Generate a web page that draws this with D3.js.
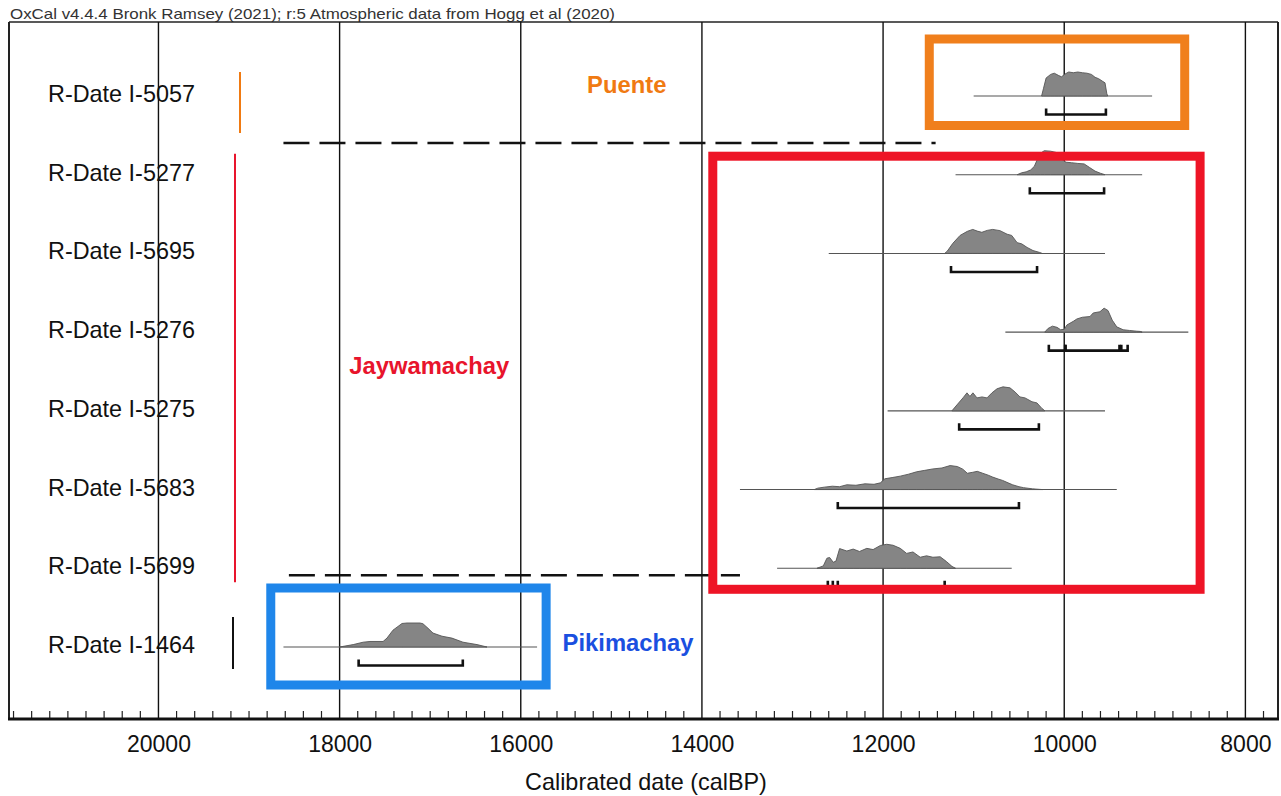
<!DOCTYPE html>
<html>
<head>
<meta charset="utf-8">
<script src="https://cdn.jsdelivr.net/npm/d3@7"></script>
<style>
  html, body { margin: 0; padding: 0; background: #fff; }
  svg { display: block; }
  text { font-family: Arial, "Liberation Sans", sans-serif; }
</style>
</head>
<body>
<svg id="chart" width="1281" height="796"></svg>
<script>
// ---------------- DATA ----------------
const titleText = "OxCal v4.4.4 Bronk Ramsey (2021); r:5 Atmospheric data from Hogg et al (2020)";
const axisTitle = "Calibrated date (calBP)";
const tickValues = [20000, 18000, 16000, 14000, 12000, 10000, 8000];

const dates = ["R-Date I-5057", "R-Date I-5277", "R-Date I-5695", "R-Date I-5276",
               "R-Date I-5275", "R-Date I-5683", "R-Date I-5699", "R-Date I-1464"];

// extent of the thin line under each distribution (calBP)
const rangeStart = [11000, 11200, 12600, 10650, 11950, 13580, 13170, 18620];
const rangeEnd   = [9030, 9140, 9550, 8630, 9550, 9420, 10580, 15820];

// calibrated probability (relative): [calBP, p]
const dens5057 = [[10250,0],[10230,0.3],[10200,0.75],[10150,0.9],[10110,0.95],[10060,0.85],[10030,0.8],[9990,0.92],[9950,1.0],[9900,0.97],[9850,1.0],[9800,0.97],[9750,0.95],[9700,0.9],[9660,0.78],[9620,0.72],[9580,0.62],[9550,0.55],[9530,0.1],[9520,0]];
const dens5277 = [[10520,0],[10470,0.08],[10420,0.12],[10370,0.2],[10330,0.35],[10290,0.7],[10260,0.9],[10220,1.0],[10150,0.98],[10080,0.92],[10020,0.62],[9980,0.52],[9920,0.5],[9850,0.47],[9780,0.45],[9720,0.3],[9660,0.15],[9600,0.06],[9550,0]];
const dens5695 = [[11320,0],[11290,0.1],[11230,0.42],[11150,0.75],[11070,0.92],[11010,1.0],[10960,0.93],[10910,0.88],[10850,0.96],[10790,1.0],[10710,0.95],[10630,0.8],[10580,0.75],[10540,0.55],[10520,0.45],[10470,0.4],[10410,0.25],[10345,0.12],[10270,0.04],[10245,0]];
const dens5276 = [[10215,0],[10180,0.15],[10130,0.25],[10080,0.2],[10040,0.1],[10000,0.12],[9970,0.3],[9900,0.45],[9860,0.55],[9800,0.62],[9716,0.65],[9680,0.8],[9606,0.85],[9560,1.0],[9517,0.9],[9470,0.5],[9420,0.22],[9350,0.1],[9280,0.07],[9200,0.04],[9160,0.03],[9140,0]];
const dens5275 = [[11240,0],[11184,0.25],[11118,0.54],[11074,0.75],[11041,0.6],[11008,0.75],[10963,0.54],[10908,0.58],[10853,0.54],[10798,0.75],[10742,0.92],[10676,1.0],[10599,0.96],[10544,0.79],[10489,0.58],[10433,0.54],[10356,0.38],[10301,0.33],[10246,0.1],[10213,0]];
const dens5683 = [[12760,0],[12720,0.06],[12650,0.1],[12560,0.14],[12480,0.12],[12400,0.2],[12300,0.18],[12200,0.24],[12100,0.22],[12030,0.28],[11980,0.45],[11900,0.5],[11810,0.56],[11720,0.64],[11630,0.74],[11540,0.8],[11450,0.86],[11350,0.9],[11260,1.0],[11180,0.96],[11120,0.85],[11070,0.68],[11010,0.72],[10960,0.76],[10900,0.68],[10840,0.6],[10790,0.52],[10730,0.44],[10680,0.38],[10620,0.28],[10570,0.2],[10500,0.12],[10450,0.08],[10350,0.03],[10240,0]];
const dens5699 = [[12730,0],[12660,0.1],[12620,0.42],[12590,0.45],[12550,0.25],[12520,0.3],[12480,0.82],[12400,0.72],[12330,0.8],[12260,0.7],[12180,0.83],[12110,0.78],[12030,0.95],[11960,1.0],[11890,0.96],[11810,0.83],[11740,0.62],[11670,0.68],[11590,0.46],[11520,0.52],[11450,0.46],[11370,0.48],[11300,0.28],[11240,0.08],[11200,0]];
const dens1464 = [[18000,0],[17850,0.1],[17740,0.2],[17665,0.23],[17520,0.23],[17477,0.37],[17411,0.7],[17311,0.98],[17256,1.0],[17113,1.0],[17080,0.97],[17024,0.78],[16969,0.58],[16870,0.45],[16760,0.37],[16638,0.2],[16483,0.1],[16373,0]];
const densities = [dens5057, dens5277, dens5695, dens5276, dens5275, dens5683, dens5699, dens1464];

// 95.4% ranges (brackets) [from, to] calBP
const brackets = [
  [[10200, 9540]],
  [[10380, 9560]],
  [[11250, 10300]],
  [[10170, 9990], [9985, 9390], [9370, 9300]],
  [[11160, 10280]],
  [[12500, 10500]],
  [[12610, 12555], [12500, 11320]],
  [[17790, 16640]]
];

// phases
const phaseNames  = ["Puente", "Jaywamachay", "Pikimachay"];
const phaseFirst  = [0, 1, 7];   // first row index
const phaseLast   = [0, 6, 7];   // last row index
const phaseBoxFrom = [11490, 13880, 18760]; // box extent calBP
const phaseBoxTo   = [8670, 8500, 15720];
const phaseLabelAt = [14830, 17010, 14815]; // label centre calBP
// boundaries (dashed lines) [from, to] calBP
const boundaryFrom = [18620, 18560];
const boundaryTo   = [11420, 13580];

// ---------------- DRAW ----------------
const svg = d3.select("#chart");
const frame = {left: 9, right: 1278, top: 22, bottom: 719};

const x = d3.scaleLinear().domain([21650, 7640]).range([frame.left, frame.right]);
const y = d3.scalePoint().domain(dates).range([96, 647]);
const h = d3.scaleLinear().domain([0, 1]).range([0, 24]);
const step = y.step();

// title
svg.append("text").attr("x", 10).attr("y", 19)
  .attr("font-size", 14.5).attr("fill", "#333")
  .attr("textLength", 605).attr("lengthAdjust", "spacingAndGlyphs")
  .text(titleText);

// frame
svg.append("line").attr("x1", frame.left).attr("x2", frame.right).attr("y1", frame.top).attr("y2", frame.top)
  .attr("stroke", "#222").attr("stroke-width", 1.5);
svg.append("line").attr("x1", frame.left).attr("x2", frame.left).attr("y1", frame.top).attr("y2", frame.bottom)
  .attr("stroke", "#222").attr("stroke-width", 2);
svg.append("line").attr("x1", frame.right).attr("x2", frame.right).attr("y1", frame.top).attr("y2", frame.bottom)
  .attr("stroke", "#222").attr("stroke-width", 2);

// grid lines at major ticks
svg.append("g").selectAll("line").data(tickValues).join("line")
  .attr("x1", d => x(d)).attr("x2", d => x(d))
  .attr("y1", frame.top).attr("y2", frame.bottom)
  .attr("stroke", "#111").attr("stroke-width", 1.4);

// bottom axis with minor ticks
const minorTicks = d3.range(21600, 7600, -200).filter(v => v % 2000 !== 0);
const axis = d3.axisBottom(x).tickValues(tickValues).tickSize(0).tickPadding(0).tickFormat(d3.format("d"));
const gAxis = svg.append("g").attr("transform", `translate(0,${frame.bottom})`).call(axis);
gAxis.select(".domain").remove();
gAxis.selectAll(".tick text").attr("dy", null).attr("y", 33)
  .attr("font-size", 23).attr("fill", "#111").attr("font-family", "Arial, 'Liberation Sans', sans-serif");
svg.append("g").selectAll("line").data(minorTicks).join("line")
  .attr("x1", d => x(d)).attr("x2", d => x(d))
  .attr("y1", frame.bottom - 8).attr("y2", frame.bottom)
  .attr("stroke", "#222").attr("stroke-width", 1.2);
svg.append("line").attr("x1", frame.left - 1).attr("x2", frame.right + 1)
  .attr("y1", frame.bottom).attr("y2", frame.bottom)
  .attr("stroke", "#111").attr("stroke-width", 3);

svg.append("text").attr("x", 646).attr("y", 790).attr("text-anchor", "middle")
  .attr("font-size", 23.4).attr("fill", "#111").text(axisTitle);

// row labels
svg.append("g").selectAll("text").data(dates).join("text")
  .attr("x", 48).attr("y", d => y(d) + 6)
  .attr("font-size", 23.4).attr("fill", "#111").text(d => d);

// range lines
svg.append("g").selectAll("line").data(dates).join("line")
  .attr("x1", (d, i) => x(rangeStart[i])).attr("x2", (d, i) => x(rangeEnd[i]))
  .attr("y1", d => y(d)).attr("y2", d => y(d))
  .attr("stroke", "#555").attr("stroke-width", 1.1);

// distributions
svg.append("g").selectAll("path").data(dates).join("path")
  .attr("d", (d, i) => d3.area()
      .x(p => x(p[0]))
      .y0(y(d))
      .y1(p => y(d) - h(p[1]))(densities[i]))
  .attr("fill", "#858585").attr("stroke", "#555").attr("stroke-width", 0.9);

// brackets
const gBr = svg.append("g");
dates.forEach((d, i) => {
  const by = y(d) + 18.5;
  brackets[i].forEach(seg => {
    const x1 = x(seg[0]), x2 = x(seg[1]);
    gBr.append("path")
      .attr("d", `M${x1},${by - 6}L${x1},${by}L${x2},${by}L${x2},${by - 6}`)
      .attr("fill", "none").attr("stroke", "#111").attr("stroke-width", 2.6);
  });
});

// boundaries (dashed)
const bY = [y(dates[0]) + 47, y(dates[6]) + 7];
svg.append("g").selectAll("line").data(boundaryFrom).join("line")
  .attr("x1", (d) => x(d)).attr("x2", (d, i) => x(boundaryTo[i]))
  .attr("y1", (d, i) => bY[i]).attr("y2", (d, i) => bY[i])
  .attr("stroke", "#111").attr("stroke-width", 2.4).attr("stroke-dasharray", "26,10");

// phase styling
const boxColors   = ["#f07f1c", "#ee1426", "#1f86ea"];
const labelColors = ["#f07a12", "#e8142c", "#1a4fe0"];
const lineColors  = ["#f07a12", "#e8142c", "#111"];
const lineYears   = [19100, 19155, 19177];
const lineTop = [-24, -21, -30], lineBot = [37, 14, 22];
const boxTop  = [-57, -18.5, -59], boxBot = [29.5, 21, 38];
const labelDy = [-3, step / 2 + 2.5, 4];

phaseNames.forEach((name, i) => {
  const yf = y(dates[phaseFirst[i]]), yl = y(dates[phaseLast[i]]);
  svg.append("line")
    .attr("x1", x(lineYears[i])).attr("x2", x(lineYears[i]))
    .attr("y1", yf + lineTop[i]).attr("y2", yl + lineBot[i])
    .attr("stroke", lineColors[i]).attr("stroke-width", 2);
  svg.append("rect")
    .attr("x", x(phaseBoxFrom[i])).attr("y", yf + boxTop[i])
    .attr("width", x(phaseBoxTo[i]) - x(phaseBoxFrom[i]))
    .attr("height", (yl + boxBot[i]) - (yf + boxTop[i]))
    .attr("fill", "none").attr("stroke", boxColors[i]).attr("stroke-width", 9);
  const ly = (i === 1) ? y(dates[3]) + labelDy[i] : yf + labelDy[i];
  svg.append("text")
    .attr("x", x(phaseLabelAt[i])).attr("y", ly)
    .attr("text-anchor", "middle").attr("font-weight", "bold")
    .attr("font-size", 23.8).attr("fill", labelColors[i]).text(name);
});
</script>
</body>
</html>
